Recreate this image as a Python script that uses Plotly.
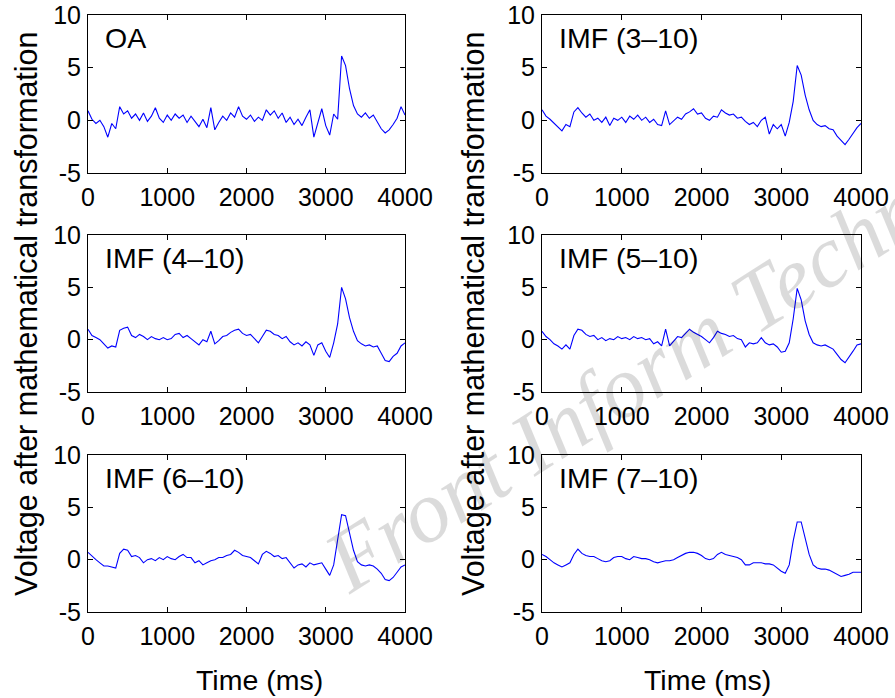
import plotly.graph_objects as go

# time axis (ms), sampled every 50 ms
time_ms = list(range(0, 4001, 50))

panel_labels = ["OA", "IMF (3–10)", "IMF (4–10)", "IMF (5–10)", "IMF (6–10)", "IMF (7–10)"]

oa = [0.9, 0.1, -0.3, 0.0, -0.6, -1.6, -0.3, -0.8, 1.3, 0.6,
      0.9, 0.2, 0.6, 0.0, 0.7, -0.1, 0.4, 1.2, 0.2, -0.2,
      0.5, 0.0, 0.6, 0.2, 0.5, -0.2, 0.4, -0.1, -0.6, 0.1,
      -0.7, 1.2, -0.9, -0.2, 0.4, 0.0, 0.7, 0.3, 1.3, 0.4,
      0.1, 0.5, -0.1, 0.3, 0.0, 1.0, 0.5, 0.9, 0.2, 0.7,
      -0.2, 0.3, -0.4, 0.1, -0.5, 0.3, 1.0, -1.6, -0.3, 1.1,
      -0.5, -1.4, 0.6, 0.1, 6.1, 5.2, 3.0, 1.4, 0.6, 0.3,
      0.7, 0.2, 0.5, -0.1, -0.8, -1.2, -0.9, -0.4, 0.2, 1.3,
      0.5]

imf_3_10 = [1.0, 0.4, 0.1, -0.3, -0.6, -1.0, -0.4, -0.6, 0.8, 1.2,
            0.7, 0.3, 0.6, 0.0, 0.2, -0.2, 0.3, -0.5, 0.2, 0.0,
            0.3, -0.2, 0.4, 0.1, 0.5, 0.0, 0.3, -0.2, 0.1, -0.4,
            -0.5, 0.9, -0.4, 0.0, 0.3, 0.1, 0.6, 0.8, 1.1, 0.6,
            0.7, 0.2, 0.0, 0.4, 0.3, 1.0, 0.7, 0.5, 0.6, 0.2,
            0.3, -0.1, -0.4, -0.2, -0.6, 0.0, 0.3, -1.3, -0.4, -0.8,
            -0.4, -1.5, -0.2, 1.8, 5.2, 4.3, 2.4, 1.0, 0.0, -0.4,
            -0.6, -0.5, -0.8, -0.9, -1.5, -1.9, -2.3, -1.8, -1.2, -0.7,
            -0.3]

imf_4_10 = [1.0, 0.4, 0.2, 0.0, -0.4, -0.8, -0.6, -0.7, 0.9, 1.1,
            1.2, 0.4, 0.2, 0.5, 0.3, 0.0, 0.3, 0.1, 0.0, 0.2,
            0.0, 0.1, 0.5, 0.6, 0.2, 0.4, 0.1, -0.2, -0.5, 0.0,
            -0.2, 0.8, -0.4, -0.1, 0.3, 0.4, 0.7, 0.9, 1.0, 0.6,
            0.4, 0.5, 0.1, -0.3, 0.3, 0.9, 0.8, 0.5, 0.4, 0.1,
            0.3, -0.2, -0.5, -0.3, -0.6, -0.2, -0.5, -1.5, -0.5, -0.3,
            -1.1, -1.7, -0.3, 1.5, 5.0, 3.9, 2.1, 0.8, -0.1, -0.4,
            -0.6, -0.5, -0.7, -0.6, -1.3, -2.0, -2.1, -1.6, -1.3, -0.6,
            -0.3]

imf_5_10 = [0.8, 0.3, 0.0, -0.4, -0.6, -0.9, -0.5, -0.9, 0.4, 1.0,
            0.9, 0.5, 0.3, 0.4, 0.0, 0.2, -0.1, 0.1, 0.0, 0.3,
            0.1, 0.2, 0.0, 0.3, 0.1, 0.2, 0.0, 0.1, -0.4, -0.2,
            -0.6, 1.0, -0.6, -0.2, 0.3, 0.2, 0.6, 1.0, 0.7, 0.5,
            0.3, 0.0, -0.3, 0.2, 0.8, 0.6, 0.5, 0.3, 0.4, 0.1,
            0.0, -0.7, -0.3, -0.4, -0.3, 0.2, -0.3, -0.5, -0.4, -0.7,
            -1.2, -1.1, -0.3, 2.0, 4.9, 3.8, 1.8, 0.5, -0.3, -0.5,
            -0.6, -0.5, -0.7, -0.9, -1.4, -1.9, -2.2, -1.7, -1.1, -0.5,
            -0.4]

imf_6_10 = [0.7, 0.3, 0.0, -0.3, -0.6, -0.6, -0.7, -0.8, 0.6, 1.0,
            0.9, 0.3, 0.4, 0.2, -0.3, 0.0, 0.1, -0.1, 0.2, 0.0,
            0.3, 0.1, 0.0, 0.3, 0.5, 0.2, 0.2, -0.3, -0.1, -0.5,
            -0.3, -0.1, 0.0, 0.2, 0.2, 0.4, 0.5, 0.9, 0.7, 0.4,
            0.3, 0.2, -0.1, -0.4, 0.5, 0.8, 0.6, 0.3, 0.4, 0.1,
            0.2, -0.3, -0.8, -0.5, -0.4, -0.7, -0.3, -0.5, -0.4, -0.3,
            -0.9, -1.5, -0.5, 1.8, 4.3, 4.2, 2.4, 0.9, -0.2, -0.5,
            -0.6, -0.5, -0.6, -0.9, -1.3, -1.9, -2.0, -1.7, -1.2, -0.7,
            -0.5]

imf_7_10 = [0.5, 0.3, 0.0, -0.3, -0.5, -0.7, -0.5, -0.3, 0.5, 1.0,
            0.6, 0.4, 0.3, 0.3, 0.1, -0.1, -0.2, -0.1, 0.2, 0.3,
            0.3, 0.1, 0.0, 0.3, 0.2, 0.1, 0.1, 0.0, -0.2, -0.3,
            -0.2, -0.1, -0.1, 0.0, 0.2, 0.4, 0.6, 0.7, 0.7, 0.6,
            0.4, 0.1, 0.0, 0.1, 0.5, 0.7, 0.5, 0.4, 0.3, 0.2,
            0.0, -0.5, -0.5, -0.3, -0.3, -0.3, -0.4, -0.4, -0.5, -0.8,
            -1.1, -1.3, -0.5, 1.8, 3.6, 3.6, 2.0, 0.5, -0.5, -0.8,
            -0.9, -0.9, -1.0, -1.2, -1.4, -1.6, -1.5, -1.4, -1.2, -1.2,
            -1.2]

series = [oa, imf_3_10, imf_4_10, imf_5_10, imf_6_10, imf_7_10]

x_ticks = [0, 1000, 2000, 3000, 4000]
y_ticks = [-5, 0, 5, 10]

W, H = 895, 698
col_px = [(88, 405), (542, 861)]
row_px = [(15, 173), (235, 392), (455, 612)]

FONT = "Arial, Liberation Sans, sans-serif"

fig = go.Figure()
for i, ys in enumerate(series):
    r, c = divmod(i, 2)
    n = i + 1
    xa = "x" if n == 1 else f"x{n}"
    ya = "y" if n == 1 else f"y{n}"
    fig.add_trace(go.Scatter(x=time_ms, y=ys, mode="lines",
                             line=dict(color="#0000ff", width=1.1),
                             xaxis=xa, yaxis=ya, showlegend=False,
                             hoverinfo="skip"))
    x0, x1 = col_px[c]
    t0, t1 = row_px[r]
    axcommon = dict(showline=True, linecolor="black", linewidth=1, mirror="ticks",
                    ticks="inside", ticklen=5, tickcolor="black", tickwidth=1,
                    showgrid=False, zeroline=False, automargin=False,
                    tickfont=dict(family=FONT, size=25, color="black"))
    fig.layout[f"xaxis{'' if n == 1 else n}"] = dict(
        axcommon, domain=[x0 / W, x1 / W], range=[0, 4000],
        tickvals=x_ticks, ticktext=[str(v) for v in x_ticks], anchor=ya,
        ticklabelstandoff=2)
    fig.layout[f"yaxis{'' if n == 1 else n}"] = dict(
        axcommon, domain=[1 - t1 / H, 1 - t0 / H], range=[-5, 10],
        tickvals=y_ticks, ticktext=[str(v) for v in y_ticks], anchor=xa,
        ticklabelstandoff=1)
    fig.add_annotation(text=panel_labels[i], xref=f"{xa} domain", yref=f"{ya} domain",
                       x=15 / (x1 - x0), y=1 - 23 / (t1 - t0), xanchor="left",
                       yanchor="middle", showarrow=False,
                       font=dict(family=FONT, size=28.5, color="black"))

# axis titles
for xc in (26, 473):
    fig.add_annotation(text="Voltage after mathematical transformation", textangle=-90,
                       xref="paper", yref="paper", x=xc / W, y=1 - 314 / H,
                       xanchor="center", yanchor="middle", showarrow=False,
                       font=dict(family=FONT, size=30.5, color="black"))
for xc in (259, 707):
    fig.add_annotation(text="Time (ms)", xref="paper", yref="paper",
                       x=xc / W, y=1 - 680 / H, xanchor="center", yanchor="middle",
                       showarrow=False, font=dict(family=FONT, size=28.5, color="black"))

# watermark
fig.add_annotation(text="<i>Front Inform Techn</i>", textangle=-32.5,
                   xref="paper", yref="paper", x=623 / W, y=1 - 385 / H,
                   xanchor="center", yanchor="middle", showarrow=False,
                   font=dict(family="Liberation Serif, Times New Roman, serif",
                             size=88, color="rgba(0,0,0,0.14)"))

fig.update_layout(width=W, height=H, margin=dict(l=0, r=0, t=0, b=0),
                  paper_bgcolor="white", plot_bgcolor="white")

fig.write_html("out.html")
